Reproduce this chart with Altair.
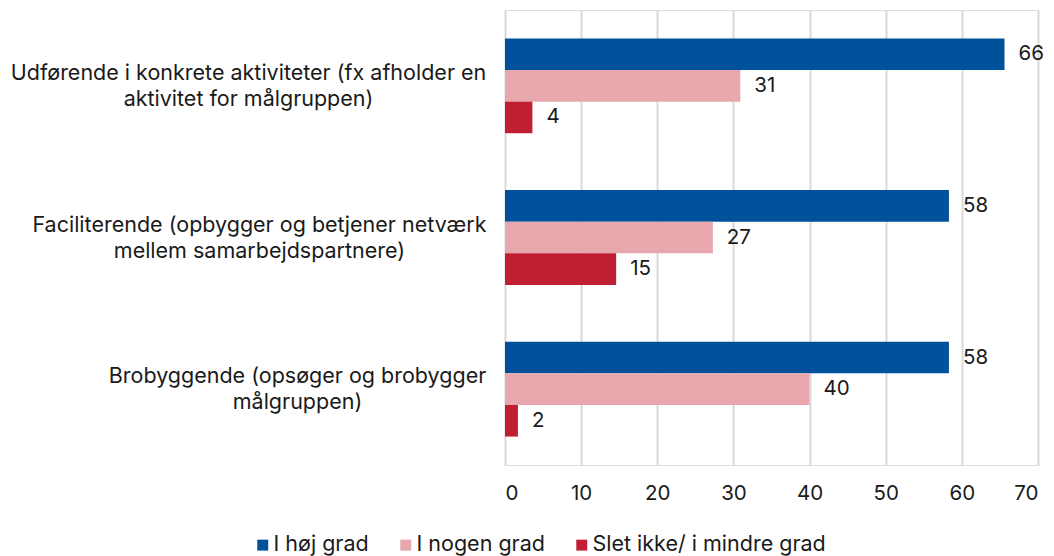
import altair as alt
import pandas as pd

categories = [
    "Udførende i konkrete aktiviteter (fx afholder en\naktivitet for målgruppen)",
    "Faciliterende (opbygger og betjener netværk\nmellem samarbejdspartnere)",
    "Brobyggende (opsøger og brobygger\nmålgruppen)",
]
series = ["I høj grad", "I nogen grad", "Slet ikke/ i mindre grad"]
colors = ["#00519C", "#E8A7AD", "#C01F33"]

hoej = [65.6, 58.3, 58.3]
nogen = [30.9, 27.3, 40.0]
slet = [3.6, 14.6, 1.7]

rows = []
for i, c in enumerate(categories):
    for s, vals in zip(series, [hoej, nogen, slet]):
        rows.append({"kategori": c, "serie": s, "værdi": vals[i]})
df = pd.DataFrame(rows)

FONT = "Inter"
FS = 20.5
FS_LAB = 21.5

label_pad = {
    "condition": [
        {"test": "slice(datum.value, 0, 4) == 'Brob'", "value": 208},
        {"test": "slice(datum.value, 0, 4) == 'Faci'", "value": 246},
    ],
    "value": 257,
}

y = alt.Y(
    "kategori:N",
    sort=categories,
    scale=alt.Scale(paddingInner=0.375, paddingOuter=0.1875),
    axis=alt.Axis(
        title=None,
        labelExpr="split(datum.label, '\\n')",
        labelAlign="center",
        labelPadding=label_pad,
        labelOffset=-12,
        labelLineHeight=26,
        labelFontSize=FS_LAB,
        labelFont=FONT,
        labelColor="#1a1a1a",
        labelLimit=600,
        ticks=False,
        domain=False,
    ),
)

x = alt.X(
    "værdi:Q",
    scale=alt.Scale(domain=[0, 70], nice=False),
    axis=alt.Axis(
        title=None,
        values=[0, 10, 20, 30, 40, 50, 60, 70],
        labelFontSize=FS,
        labelFont=FONT,
        labelColor="#1a1a1a",
        labelPadding=18,
        grid=True,
        gridColor="#d9d9d9",
        gridWidth=2,
        ticks=False,
        domain=False,
    ),
)

yoff = alt.YOffset("serie:N", sort=series, scale=alt.Scale(paddingInner=0, paddingOuter=0))

bars = alt.Chart(df).mark_bar().encode(
    y=y,
    x=x,
    yOffset=yoff,
    color=alt.Color(
        "serie:N",
        sort=series,
        scale=alt.Scale(domain=series, range=colors),
        legend=alt.Legend(
            title=None,
            orient="none",
            direction="horizontal",
            legendX=-253,
            legendY=524,
            symbolType="square",
            symbolSize=120,
            symbolStrokeWidth=0,
            labelFontSize=FS_LAB,
            labelFont=FONT,
            labelColor="#1a1a1a",
            labelOffset=0,
            labelLimit=400,
            columnPadding=26,
        ),
    ),
)

text = alt.Chart(df).mark_text(
    align="left", baseline="middle", dx=14, fontSize=FS, font=FONT, color="#1a1a1a"
).encode(
    y=alt.Y("kategori:N", sort=categories),
    x=alt.X("værdi:Q"),
    yOffset=yoff,
    text=alt.Text("værdi:Q", format=".0f"),
)

chart = (
    alt.layer(bars, text)
    .properties(
        width=533,
        height=455,
        autosize=alt.AutoSizeParams(type="none"),
        padding={"left": 497, "top": 2, "right": 8, "bottom": 94},
    )
    .configure_view(stroke=None)
    .configure(background="white")
)

chart.save("out.html", embed_options={"renderer": "svg", "actions": False})
